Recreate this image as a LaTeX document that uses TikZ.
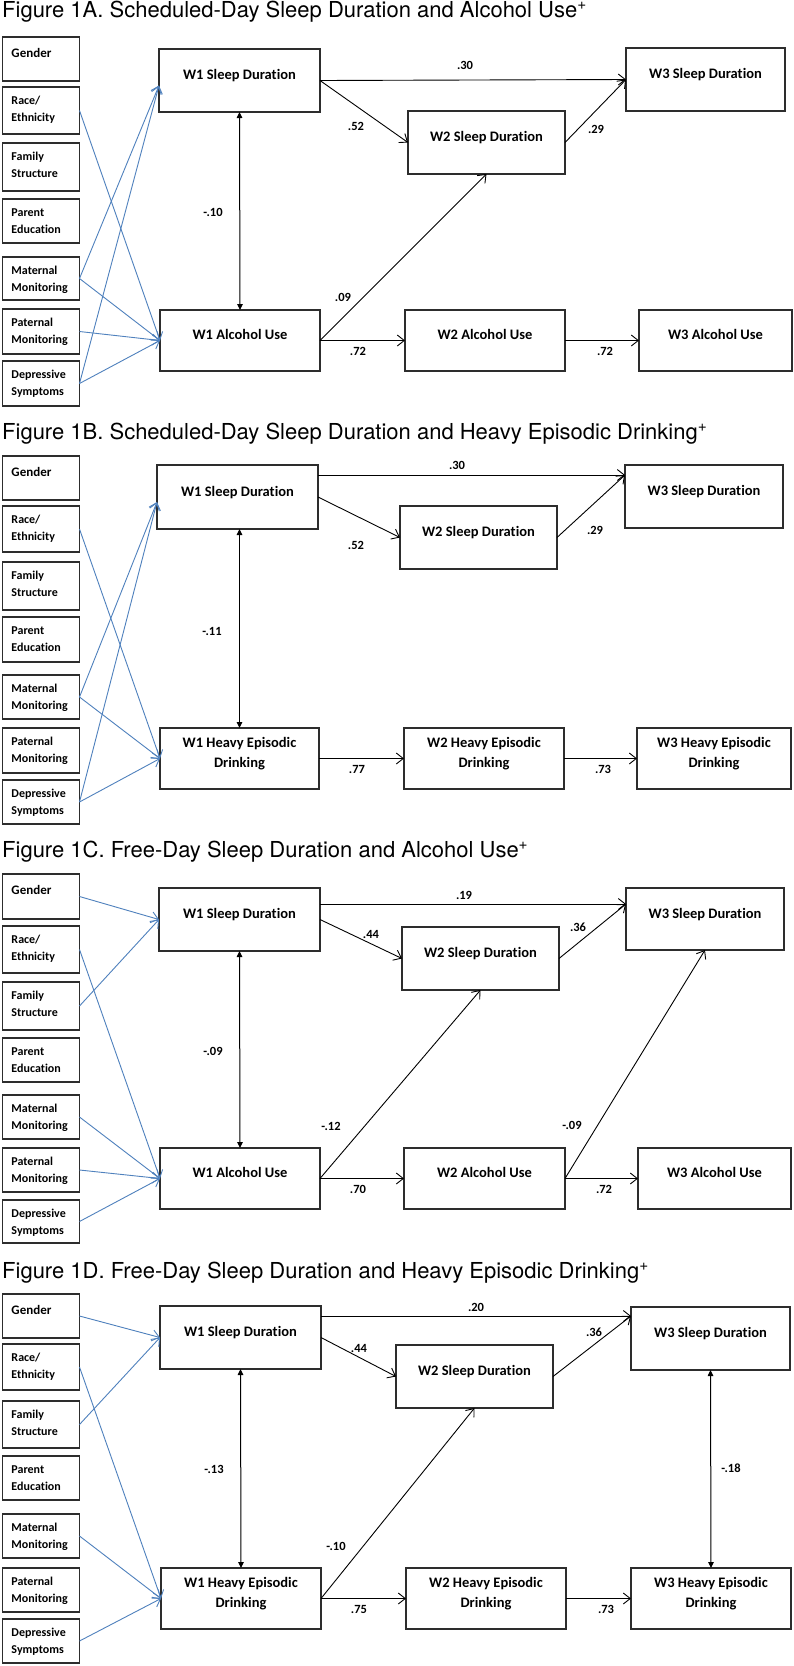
\documentclass[tikz,border=0pt]{standalone}
\usepackage{fontspec}
\usetikzlibrary{arrows.meta,calc}
\newfontfamily\calib{Carlito}[Ligatures={NoCommon}]
\newfontfamily\helv{TeX Gyre Heros}
\definecolor{boxc}{RGB}{45,45,45}
\definecolor{ablue}{RGB}{79,129,189}
\newcommand\bigbx[3]{\parbox[c][#2pt][c]{#1pt}{\centering\calib\bfseries\fontsize{14.5}{20}\selectfont\rule{0pt}{14pt}#3\rule[-16pt]{0pt}{16pt}\par}}
\newcommand\smbx[3]{\parbox[c][#1pt][t]{77pt}{\raggedright\leftskip=9pt\relax\calib\bfseries\fontsize{12}{17}\selectfont\rule{0pt}{#2pt}#3\par}}
\newcommand\gbx[1]{\parbox[c][#1pt][t]{77pt}{\raggedright\leftskip=9pt\relax\calib\bfseries\fontsize{13}{17}\selectfont\rule{0pt}{20pt}Gender\par}}
\begin{document}
\begin{tikzpicture}[x=1pt,y=-1pt,
  bbox/.style={draw=boxc,line width=1.2pt,inner sep=0pt,outer sep=0pt,anchor=north west},
  sbox/.style={draw=boxc,line width=1.2pt,inner sep=0pt,outer sep=0pt,anchor=north west},
  coef/.style={font=\calib\bfseries\fontsize{12.5}{14}\selectfont,inner sep=0pt},
  ttl/.style={font=\helv\fontsize{22}{26}\selectfont,anchor=base west,inner sep=0pt},
  arr/.style={draw=black,line width=0.9pt,-{Straight Barb[length=7pt,width=11pt]}},
  barr/.style={draw=ablue,line width=0.9pt,-{Straight Barb[length=7pt,width=11pt]}},
  dbl/.style={draw=black,line width=1pt,{Triangle[length=6pt,width=5.5pt]}-{Triangle[length=6pt,width=5.5pt]}}]
\useasboundingbox[fill=white] (0,0) rectangle (794,1666);

% ---------------- Figure 1A ----------------
\node[ttl] (tA) at (2,17) {Figure 1A. Scheduled-Day Sleep Duration and Alcohol Use\textsuperscript{+}};
\node[sbox] (gA) at (2.5,37) {\gbx{44}};
\node[sbox] (rA) at (2.5,87) {\smbx{47}{17}{Race/\\Ethnicity}};
\node[sbox] (fA) at (2.5,143) {\smbx{48}{17}{Family\\Structure}};
\node[sbox] (pA) at (2.5,199) {\smbx{44}{17}{Parent\\Education}};
\node[sbox] (mA) at (2.5,257) {\smbx{43}{17}{Maternal\\Monitoring}};
\node[sbox] (paA) at (2.5,309) {\smbx{45}{17}{Paternal\\Monitoring}};
\node[sbox] (dA) at (2.5,361) {\smbx{45}{17}{Depressive\\Symptoms}};
\node[bbox] (s1A) at (159,49) {\bigbx{161}{63}{W1 Sleep Duration}};
\node[bbox] (a1A) at (160,310) {\bigbx{160}{61}{W1 Alcohol Use}};
\node[bbox] (s2A) at (408,111) {\bigbx{157}{63}{W2 Sleep Duration}};
\node[bbox] (s3A) at (626,48) {\bigbx{159}{63}{W3 Sleep Duration}};
\node[bbox] (a2A) at (405,310) {\bigbx{160}{61}{W2 Alcohol Use}};
\node[bbox] (a3A) at (639,310) {\bigbx{153}{61}{W3 Alcohol Use}};
\draw[arr] (s1A.east) -- (s3A.west);
\draw[arr] (s1A.east) -- (s2A.west);
\draw[arr] (s2A.east) -- (s3A.west);
\draw[arr] (a1A.east) -- (s2A.south);
\draw[arr] (a1A.east) -- (a2A.west);
\draw[arr] (a2A.east) -- (a3A.west);
\draw[dbl] (s1A.south) -- (a1A.north);
\draw[barr] (rA.east) -- (a1A.west);
\draw[barr] (mA.east) -- ([yshift=-5pt]s1A.west);
\draw[barr] (mA.east) -- (a1A.west);
\draw[barr] (paA.east) -- (a1A.west);
\draw[barr] (dA.east) -- ([yshift=-5pt]s1A.west);
\draw[barr] (dA.east) -- (a1A.west);
\node[coef] (cA1) at (465,65) {.30};
\node[coef] (cA2) at (356,126) {.52};
\node[coef] (cA3) at (596,129) {.29};
\node[coef] (cA4) at (343,297) {.09};
\node[coef] (cA5) at (358,351) {.72};
\node[coef] (cA6) at (605,351) {.72};
\node[coef] (cA7) at (213,212) {-.10};

% ---------------- Figure 1B ----------------
\node[ttl] (tB) at (2,439) {Figure 1B. Scheduled-Day Sleep Duration and Heavy Episodic Drinking\textsuperscript{+}};
\node[sbox] (gB) at (2.5,456) {\gbx{44}};
\node[sbox] (rB) at (2.5,506) {\smbx{46}{17}{Race/\\Ethnicity}};
\node[sbox] (fB) at (2.5,562) {\smbx{48}{17}{Family\\Structure}};
\node[sbox] (pB) at (2.5,617) {\smbx{45}{17}{Parent\\Education}};
\node[sbox] (mB) at (2.5,675) {\smbx{44}{17}{Maternal\\Monitoring}};
\node[sbox] (paB) at (2.5,728) {\smbx{45}{17}{Paternal\\Monitoring}};
\node[sbox] (dB) at (2.5,780) {\smbx{44}{17}{Depressive\\Symptoms}};
\node[bbox] (s1B) at (157,465) {\bigbx{161}{64}{W1 Sleep Duration}};
\node[bbox] (h1B) at (160,728) {\bigbx{159}{61}{W1 Heavy Episodic\\Drinking}};
\node[bbox] (s2B) at (400,506) {\bigbx{157}{63}{W2 Sleep Duration}};
\node[bbox] (s3B) at (625,465) {\bigbx{158}{63}{W3 Sleep Duration}};
\node[bbox] (h2B) at (404,728) {\bigbx{160}{61}{W2 Heavy Episodic\\Drinking}};
\node[bbox] (h3B) at (637,728) {\bigbx{154}{61}{W3 Heavy Episodic\\Drinking}};
\coordinate (s1Bh) at ([yshift=-10pt]s1B.north east);
\draw[arr] (s1Bh) -- (s1Bh -| s3B.west);
\draw[arr] (s1B.east) -- (s2B.west);
\draw[arr] (s2B.east) -- (s1Bh -| s3B.west);
\draw[arr] (h1B.east) -- (h2B.west);
\draw[arr] (h2B.east) -- (h3B.west);
\draw[dbl] (h1B.north |- s1B.south) -- (h1B.north);
\draw[barr] (rB.east) -- (h1B.west);
\draw[barr] (mB.east) -- ([yshift=-5pt]s1B.west);
\draw[barr] (mB.east) -- (h1B.west);
\draw[barr] (dB.east) -- ([yshift=-5pt]s1B.west);
\draw[barr] (dB.east) -- (h1B.west);
\node[coef] (cB1) at (457,465) {.30};
\node[coef] (cB2) at (356,545) {.52};
\node[coef] (cB3) at (595,530) {.29};
\node[coef] (cB4) at (357,769) {.77};
\node[coef] (cB5) at (603,769) {.73};
\node[coef] (cB6) at (212,631) {-.11};

% ---------------- Figure 1C ----------------
\node[ttl] (tC) at (2,857) {Figure 1C. Free-Day Sleep Duration and Alcohol Use\textsuperscript{+}};
\node[sbox] (gC) at (2.5,874) {\gbx{45}};
\node[sbox] (rC) at (2.5,926) {\smbx{47}{17}{Race/\\Ethnicity}};
\node[sbox] (fC) at (2.5,982) {\smbx{48}{17}{Family\\Structure}};
\node[sbox] (pC) at (2.5,1038) {\smbx{44}{17}{Parent\\Education}};
\node[sbox] (mC) at (2.5,1095) {\smbx{44}{17}{Maternal\\Monitoring}};
\node[sbox] (paC) at (2.5,1148) {\smbx{44}{17}{Paternal\\Monitoring}};
\node[sbox] (dC) at (2.5,1200) {\smbx{43}{17}{Depressive\\Symptoms}};
\node[bbox] (s1C) at (159,888) {\bigbx{161}{63}{W1 Sleep Duration}};
\node[bbox] (a1C) at (160,1148) {\bigbx{160}{61}{W1 Alcohol Use}};
\node[bbox] (s2C) at (402,927) {\bigbx{157}{63}{W2 Sleep Duration}};
\node[bbox] (s3C) at (626,888) {\bigbx{158}{62}{W3 Sleep Duration}};
\node[bbox] (a2C) at (404,1148) {\bigbx{161}{61}{W2 Alcohol Use}};
\node[bbox] (a3C) at (638,1148) {\bigbx{153}{61}{W3 Alcohol Use}};
\coordinate (s1Ch) at ([yshift=-16pt]s1C.north east);
\draw[arr] (s1Ch) -- (s1Ch -| s3C.west);
\draw[arr] (s1C.east) -- (s2C.west);
\draw[arr] (s2C.east) -- (s1Ch -| s3C.west);
\draw[arr] (a1C.east) -- (s2C.south);
\draw[arr] (a1C.east) -- (a2C.west);
\draw[arr] (a2C.east) -- (s3C.south);
\draw[arr] (a2C.east) -- (a3C.west);
\draw[dbl] (s1C.south) -- (a1C.north);
\draw[barr] (gC.east) -- (s1C.west);
\draw[barr] (fC.east) -- (s1C.west);
\draw[barr] (rC.east) -- (a1C.west);
\draw[barr] (mC.east) -- (a1C.west);
\draw[barr] (paC.east) -- (a1C.west);
\draw[barr] (dC.east) -- (a1C.west);
\node[coef] (cC1) at (464,895) {.19};
\node[coef] (cC2) at (371,934) {.44};
\node[coef] (cC3) at (578,927) {.36};
\node[coef] (cC4) at (331,1126) {-.12};
\node[coef] (cC5) at (358,1189) {.70};
\node[coef] (cC6) at (572,1125) {-.09};
\node[coef] (cC7) at (604,1189) {.72};
\node[coef] (cC8) at (213,1051) {-.09};

% ---------------- Figure 1D ----------------
\node[ttl] (tD) at (2,1278) {Figure 1D. Free-Day Sleep Duration and Heavy Episodic Drinking\textsuperscript{+}};
\node[sbox] (gD) at (2.5,1294) {\gbx{44}};
\node[sbox] (rD) at (2.5,1344) {\smbx{46}{17}{Race/\\Ethnicity}};
\node[sbox] (fD) at (2.5,1401) {\smbx{47}{17}{Family\\Structure}};
\node[sbox] (pD) at (2.5,1456) {\smbx{44}{17}{Parent\\Education}};
\node[sbox] (mD) at (2.5,1514) {\smbx{44}{17}{Maternal\\Monitoring}};
\node[sbox] (paD) at (2.5,1568) {\smbx{44}{17}{Paternal\\Monitoring}};
\node[sbox] (dD) at (2.5,1619) {\smbx{44}{17}{Depressive\\Symptoms}};
\node[bbox] (s1D) at (160,1306) {\bigbx{161}{63}{W1 Sleep Duration}};
\node[bbox] (h1D) at (161,1568) {\bigbx{160}{61}{W1 Heavy Episodic\\Drinking}};
\node[bbox] (s2D) at (396,1345) {\bigbx{157}{63}{W2 Sleep Duration}};
\node[bbox] (s3D) at (631,1307) {\bigbx{159}{63}{W3 Sleep Duration}};
\node[bbox] (h2D) at (406,1568) {\bigbx{160}{61}{W2 Heavy Episodic\\Drinking}};
\node[bbox] (h3D) at (631,1568) {\bigbx{160}{61}{W3 Heavy Episodic\\Drinking}};
\coordinate (s1Dh) at ([yshift=-10pt]s1D.north east);
\draw[arr] (s1Dh) -- (s1Dh -| s3D.west);
\draw[arr] (s1D.east) -- (s2D.west);
\draw[arr] (s2D.east) -- (s1Dh -| s3D.west);
\draw[arr] (h1D.east) -- (s2D.south);
\draw[arr] (h1D.east) -- (h2D.west);
\draw[arr] (h2D.east) -- (h3D.west);
\draw[dbl] (s1D.south) -- (h1D.north);
\draw[dbl] (s3D.south) -- (h3D.north);
\draw[barr] (gD.east) -- (s1D.west);
\draw[barr] (fD.east) -- (s1D.west);
\draw[barr] (rD.east) -- (h1D.west);
\draw[barr] (mD.east) -- (h1D.west);
\draw[barr] (dD.east) -- (h1D.west);
\node[coef] (cD1) at (476,1307) {.20};
\node[coef] (cD2) at (359,1348) {.44};
\node[coef] (cD3) at (594,1332) {.36};
\node[coef] (cD4) at (336,1546) {-.10};
\node[coef] (cD5) at (359,1609) {.75};
\node[coef] (cD6) at (606,1609) {.73};
\node[coef] (cD7) at (214,1469) {-.13};
\node[coef] (cD8) at (731,1468) {-.18};
\end{tikzpicture}
\end{document}
